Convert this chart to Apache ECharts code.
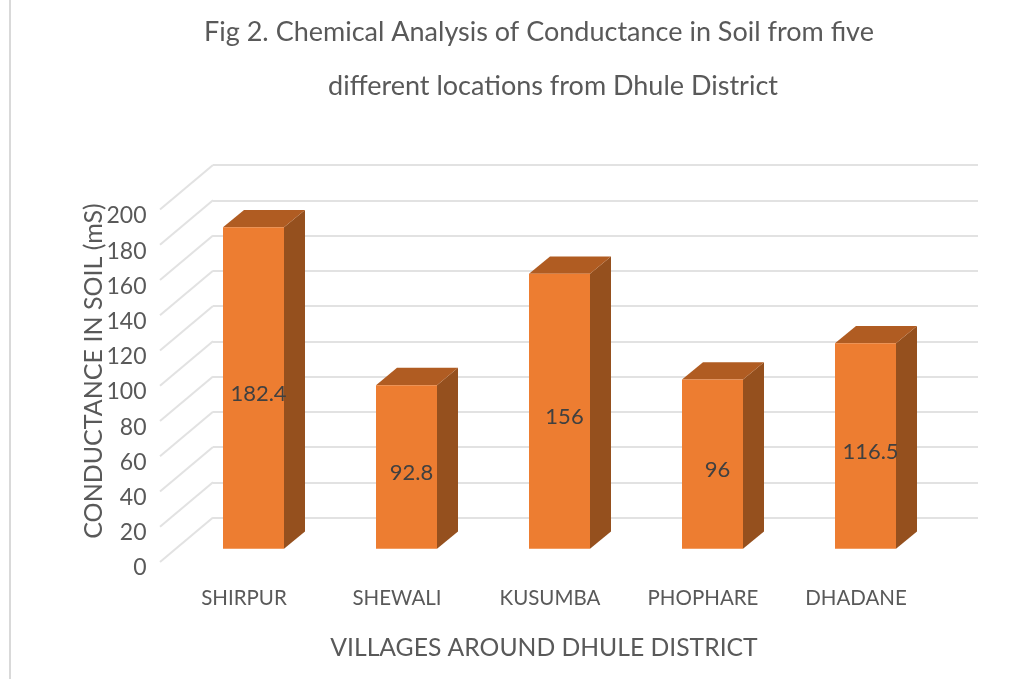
<!DOCTYPE html>
<html>
<head>
<meta charset="utf-8">
<title>Conductance in Soil</title>
<script src="https://cdn.jsdelivr.net/npm/echarts@6/dist/echarts.min.js"></script>
<style>
  html, body { margin: 0; padding: 0; background: #fff; }
  #container { width: 1028px; height: 679px; }
</style>
</head>
<body>
<div id="container"></div>
<script>
  var villages = ['SHIRPUR', 'SHEWALI', 'KUSUMBA', 'PHOPHARE', 'DHADANE'];
  var conductance = [182.4, 92.8, 156, 96, 116.5];
  var yTicks = [0, 20, 40, 60, 80, 100, 120, 140, 160, 180, 200];

  var font = 'Lato';
  var textColor = '#595959';

  var myChart = echarts.init(document.getElementById('container'));

  var option = {
    animation: false,
    backgroundColor: '#fff',
    textStyle: { fontFamily: font },
    title: [
      {
        text: 'Fig 2. Chemical Analysis of Conductance in Soil from five',
        left: 534, top: 14, textAlign: 'center',
        textStyle: { fontFamily: font, fontWeight: 'normal', fontSize: 27, color: textColor }
      },
      {
        text: 'different locations from Dhule District',
        left: 548, top: 68, textAlign: 'center',
        textStyle: { fontFamily: font, fontWeight: 'normal', fontSize: 27, color: textColor }
      }
    ],
    graphic: [
      {
        type: 'line',
        shape: { x1: 10, y1: 0, x2: 10, y2: 679 },
        style: { stroke: '#d9d9d9', lineWidth: 2 }
      }
    ],
    grid: [
      // back wall
      { left: 213, top: 165, width: 765, height: 352.5 },
      // front plane, only carries the axis labels
      { left: 167.5, top: 216, width: 765, height: 352 }
    ],
    xAxis: [
      {
        type: 'category', gridIndex: 0, data: villages,
        axisLine: { show: false }, axisTick: { show: false }, axisLabel: { show: false }
      },
      {
        type: 'category', gridIndex: 1, data: villages,
        axisLine: { show: false }, axisTick: { show: false },
        axisLabel: { color: textColor, fontSize: 20.5, fontFamily: font, margin: 20, interval: 0 },
        name: 'VILLAGES AROUND DHULE DISTRICT',
        nameLocation: 'middle',
        nameGap: 68,
        nameTextStyle: { color: textColor, fontSize: 24.7, fontFamily: font, padding: [0, 12, 0, 0] }
      }
    ],
    yAxis: [
      {
        type: 'value', gridIndex: 0, min: 0, max: 200, interval: 20,
        axisLine: { show: false }, axisTick: { show: false }, axisLabel: { show: false },
        splitLine: { show: true, lineStyle: { color: '#e2e2e2', width: 2 } }
      },
      {
        type: 'value', gridIndex: 1, min: 0, max: 200, interval: 20,
        axisLine: { show: false }, axisTick: { show: false }, splitLine: { show: false },
        axisLabel: { color: textColor, fontSize: 23, fontFamily: font, margin: 21 },
        name: 'CONDUCTANCE IN SOIL (mS)',
        nameLocation: 'middle',
        nameGap: 61,
        nameMoveOverlap: false,
        nameTextStyle: { color: textColor, fontSize: 25, fontFamily: font, padding: [0, 0, 0, 42] }
      }
    ],
    series: [
      {
        // side wall lines running from the back wall to the front
        type: 'custom',
        xAxisIndex: 0,
        yAxisIndex: 0,
        z: 1,
        clip: false,
        silent: true,
        data: yTicks.map(function (v) { return [0, v]; }),
        renderItem: function (params, api) {
          var p = api.coord([0, api.value(1)]);
          var x0 = params.coordSys.x;
          return {
            type: 'line',
            shape: { x1: x0, y1: p[1], x2: x0 - 53, y2: p[1] + 44.5 },
            style: { stroke: '#e2e2e2', lineWidth: 2 }
          };
        }
      },
      {
        name: 'Conductance',
        type: 'custom',
        xAxisIndex: 0,
        yAxisIndex: 0,
        z: 2,
        clip: false,
        data: conductance.map(function (v, i) { return [i, v]; }),
        renderItem: function (params, api) {
          var v = api.value(1);
          var top = api.coord([api.value(0), v]);
          var base = api.coord([api.value(0), 0]);
          var barW = 61, depthX = 21, depthY = 17.3;
          var xl = top[0] - 66.5;
          var xr = xl + barW;
          var yt = top[1] + 31.2;
          var yb = base[1] + 31.2;
          return {
            type: 'group',
            children: [
              {
                type: 'polygon',
                shape: { points: [[xr, yt], [xr + depthX, yt - depthY], [xr + depthX, yb - depthY], [xr, yb]] },
                style: { fill: '#95501E' }
              },
              {
                type: 'polygon',
                shape: { points: [[xl, yt], [xl + depthX, yt - depthY], [xr + depthX, yt - depthY], [xr, yt]] },
                style: { fill: '#B05C22' }
              },
              {
                type: 'rect',
                shape: { x: xl, y: yt, width: barW, height: yb - yt },
                style: { fill: '#ED7D31' }
              },
              {
                type: 'text',
                style: {
                  text: String(v),
                  x: xl + barW / 2 + 5,
                  y: (yt + yb) / 2 + 6,
                  align: 'center',
                  verticalAlign: 'middle',
                  font: '22px ' + font,
                  fill: '#404040'
                }
              }
            ]
          };
        }
      }
    ]
  };

  myChart.setOption(option, true);
</script>
</body>
</html>
